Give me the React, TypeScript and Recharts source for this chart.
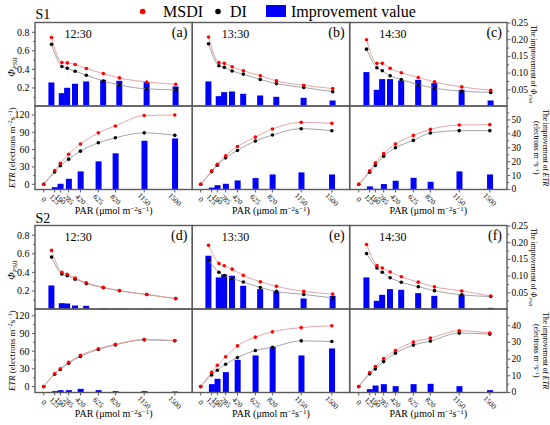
import React from 'react';
import { ComposedChart, Line, Bar, XAxis, YAxis } from 'recharts';

// ---------- data ----------
const PAR = [0, 125, 190, 285, 420, 625, 820, 1150, 1500];

// S1 12:30 (a)
const phiMsdiA = [0.743, 0.475, 0.47, 0.453, 0.41, 0.355, 0.308, 0.264, 0.24];
const phiDiA = [0.67, 0.431, 0.413, 0.38, 0.337, 0.275, 0.231, 0.19, 0.18];
const phiImpA = [0.072, 0.04, 0.056, 0.068, 0.075, 0.08, 0.077, 0.073, 0.06];
const etrMsdiA = [0, 24, 36.5, 52, 69.6, 89, 101, 119, 120];
const etrDiA = [0, 21.4, 32, 43.5, 57.4, 71.8, 80.5, 89, 84.7];
const etrImpA = [0, 1.7, 4.1, 7.7, 13, 20.2, 26, 35, 36.7];

// S1 13:30 (b)
const phiMsdiB = [0.749, 0.473, 0.465, 0.429, 0.385, 0.331, 0.276, 0.229, 0.193];
const phiDiB = [0.676, 0.44, 0.422, 0.382, 0.349, 0.291, 0.247, 0.204, 0.16];
const phiImpB = [0.075, 0.031, 0.043, 0.045, 0.038, 0.033, 0.029, 0.026, 0.018];
const etrMsdiB = [0, 23.2, 34.8, 49.3, 65.5, 81.7, 95.6, 107.2, 105.5];
const etrDiB = [0, 22, 33, 45.8, 58.6, 74.8, 85.2, 96.2, 92.7];
const etrImpB = [0, 1.4, 3.1, 4.1, 6.5, 8.2, 10.8, 12.3, 10.8];

// S1 14:30 (c)
const phiMsdiC = [0.72, 0.465, 0.465, 0.411, 0.364, 0.313, 0.265, 0.211, 0.175];
const phiDiC = [0.618, 0.418, 0.385, 0.331, 0.291, 0.235, 0.198, 0.165, 0.152];
const phiImpC = [0.103, 0.05, 0.082, 0.082, 0.078, 0.08, 0.07, 0.05, 0.018];
const etrMsdiC = [0, 23.2, 37, 53.3, 69.6, 84.6, 95, 102.6, 103.2];
const etrDiC = [0, 20.9, 32.5, 48.7, 63.2, 76, 88.7, 92.8, 92.8];
const etrImpC = [0, 2.2, 0.5, 3.9, 6.3, 8.4, 5.5, 13, 10.8];

// S2 12:30 (d)
const phiMsdiD = [0.637, 0.4, 0.38, 0.339, 0.289, 0.239, 0.204, 0.162, 0.118];
const phiDiD = [0.565, 0.382, 0.363, 0.327, 0.279, 0.235, 0.202, 0.161, 0.117];
const phiImpD = [0.072, 0.019, 0.018, 0.012, 0.011, 0.004, 0.002, 0.001, 0.001];
const etrMsdiD = [0, 21.8, 30.3, 41, 53.2, 64.2, 71.5, 80, 78.1];
const etrDiD = [0, 21, 28.9, 39.6, 51, 62.8, 70.7, 79.2, 77.5];
const etrImpD = [0, 0.8, 1.4, 1.4, 2.2, 1.4, 0.8, 0.8, 0.6];

// S2 13:30 (e)
const phiMsdiE = [0.692, 0.497, 0.471, 0.435, 0.368, 0.298, 0.25, 0.195, 0.166];
const phiDiE = [0.531, 0.401, 0.366, 0.334, 0.297, 0.237, 0.195, 0.162, 0.125];
const phiImpE = [0.161, 0.096, 0.105, 0.101, 0.071, 0.061, 0.055, 0.033, 0.041];
const etrMsdiE = [0, 24.3, 36.2, 50.4, 69, 83.8, 92.8, 100, 103];
const etrDiE = [0, 19.8, 27.7, 37.9, 49.2, 61.1, 66.8, 77.5, 76.4];
const etrImpE = [0, 5, 8.2, 12.2, 19.6, 22.2, 27.2, 22.2, 26.4];

// S2 14:30 (f)
const phiMsdiF = [0.7, 0.475, 0.447, 0.404, 0.353, 0.295, 0.244, 0.2, 0.145];
const phiDiF = [0.604, 0.447, 0.402, 0.343, 0.294, 0.246, 0.203, 0.158, 0.14];
const phiImpF = [0.096, 0.026, 0.044, 0.061, 0.059, 0.049, 0.041, 0.045, 0.005];
const etrMsdiF = [0, 23.8, 34, 47.5, 61.1, 75.4, 82.2, 94.6, 90.7];
const etrDiF = [0, 21.6, 30, 42.4, 56.7, 70.3, 77.1, 90.7, 89];
const etrImpF = [0, 2, 4.2, 5, 3.8, 5, 5.2, 3.8, 1.4];

// tick values
const PHI_L_MAJ = [0.2, 0.4, 0.6, 0.8];
const PHI_L_ALL = [0.1, 0.2, 0.3, 0.4, 0.5, 0.6, 0.7, 0.8];
const PHI_R_MAJ = [0.05, 0.1, 0.15, 0.2, 0.25];
const PHI_R_ALL = [0.025, 0.05, 0.075, 0.1, 0.125, 0.15, 0.175, 0.2, 0.225, 0.25];
const ETR_L_MAJ = [0, 30, 60, 90, 120];
const ETR_L_ALL = [0, 15, 30, 45, 60, 75, 90, 105, 120];
const ETR_R1_MAJ = [0, 10, 20, 30, 40, 50];
const ETR_R1_ALL = [0, 5, 10, 15, 20, 25, 30, 35, 40, 45, 50, 55];
const ETR_R2_MAJ = [0, 10, 20, 30, 40];
const ETR_R2_ALL = [0, 5, 10, 15, 20, 25, 30, 35, 40, 45];

const TIMES = ['12:30', '13:30', '14:30'];
const TAGS = [['(a)', '(b)', '(c)'], ['(d)', '(e)', '(f)']];
const SERIES_NAMES = ['MSDI', 'DI', 'Improvement value'];

// ---------- layout / style ----------
const FONT = '"Liberation Serif", "Times New Roman", serif';
const COLX = [35, 192.3, 349.7];
const PW = 157.3;
const PH = 83.5;
const ROWS = [
  { top: 22.5, bot: 106 },
  { top: 225.5, bot: 309 },
];
const L = 40;
const R = 40;
const T = 8;
const XB = 30;
const AXIS = '#5a5a5a';
const MSDI_LINE = '#e39a9a';
const DI_LINE = '#9a9a9a';
const BLUE = '#0000ff';

const ETR_L_DOM = [
  [-9, 135.5],
  [-10, 131.5],
];
const ETR_R_DOM = [
  [0, 60],
  [0, 50],
];

const isMajor = (majors: number[], v: number) => majors.some((m) => Math.abs(m - v) < 1e-9);

const leftTick = (majors: number[], fmt: (v: number) => string) => (p: any) => {
  const y = p.y;
  const v = p.payload.value;
  const maj = isMajor(majors, v);
  const len = maj ? 3 : 1.8;
  return (
    <g>
      <line x1={L - len} x2={L} y1={y} y2={y} stroke={AXIS} strokeWidth={1} />
      {maj && (
        <text x={L - len - 2.5} y={y} textAnchor="end" dominantBaseline="central" fontSize={10} fontFamily={FONT} fill="#000">
          {fmt(v)}
        </text>
      )}
    </g>
  );
};

const rightTick = (majors: number[], fmt: (v: number) => string) => (p: any) => {
  const y = p.y;
  const v = p.payload.value;
  const maj = isMajor(majors, v);
  const len = maj ? 3 : 1.8;
  const ax = L + PW;
  return (
    <g>
      <line x1={ax} x2={ax + len} y1={y} y2={y} stroke={AXIS} strokeWidth={1} />
      {maj && (
        <text x={ax + len + 1.2} y={y} textAnchor="start" dominantBaseline="central" fontSize={9.5} fontFamily={FONT} fill="#000">
          {fmt(v)}
        </text>
      )}
    </g>
  );
};

const xTick = (p: any) => {
  const x = p.x;
  const axisY = T + PH;
  const cy = axisY + 10;
  return (
    <g>
      <line x1={x} x2={x} y1={axisY} y2={axisY + 3} stroke={AXIS} strokeWidth={1} />
      <text
        x={x}
        y={cy}
        transform={`rotate(45 ${x} ${cy})`}
        textAnchor="middle"
        dominantBaseline="central"
        fontSize={7.5}
        fontFamily={FONT}
        fill="#000"
      >
        {String(p.payload.value)}
      </text>
    </g>
  );
};

const BarShape = (p: any) => {
  if (!p.height || p.height <= 0) return null;
  const cx = p.x + p.width / 2;
  return <rect x={cx - 3} y={p.y} width={6} height={p.height} fill={BLUE} />;
};

const build = (m: number[], d: number[], imp: number[]) =>
  PAR.map((p, i) => ({ par: p, m: m[i], d: d[i], imp: imp[i] }));

function PhiChart({ col, row, m, d, imp }: { col: number; row: number; m: number[]; d: number[]; imp: number[] }) {
  const data = build(m, d, imp);
  return (
    <div style={{ position: 'absolute', left: COLX[col] - L, top: ROWS[row].top - T }}>
      <ComposedChart width={L + PW + R} height={T + PH + T} data={data} margin={{ top: T, right: 0, bottom: T, left: 0 }}>
        <XAxis dataKey="par" type="number" domain={[-200, 1700]} hide allowDataOverflow />
        <YAxis
          yAxisId="l"
          domain={[0, 0.9]}
          ticks={PHI_L_ALL}
          interval={0}
          width={L}
          axisLine={false}
          tickLine={false}
          allowDataOverflow
          tick={col === 0 ? leftTick(PHI_L_MAJ, (v) => v.toFixed(1)) : false}
        />
        <YAxis
          yAxisId="r"
          orientation="right"
          domain={[0, 0.25]}
          ticks={PHI_R_ALL}
          interval={0}
          width={R}
          axisLine={false}
          tickLine={false}
          allowDataOverflow
          tick={col === 2 ? rightTick(PHI_R_MAJ, (v) => v.toFixed(2)) : false}
        />
        <Line yAxisId="l" dataKey="d" type="monotone" stroke={DI_LINE} strokeWidth={0.9} dot={{ r: 1.8, fill: '#000', stroke: 'none' }} isAnimationActive={false} />
        <Line yAxisId="l" dataKey="m" type="monotone" stroke={MSDI_LINE} strokeWidth={0.9} dot={{ r: 1.8, fill: '#ff0000', stroke: 'none' }} isAnimationActive={false} />
        <Bar yAxisId="r" dataKey="imp" shape={BarShape} isAnimationActive={false} />
      </ComposedChart>
    </div>
  );
}

function EtrChart({ col, row, m, d, imp }: { col: number; row: number; m: number[]; d: number[]; imp: number[] }) {
  const data = build(m, d, imp);
  const rMaj = row === 0 ? ETR_R1_MAJ : ETR_R2_MAJ;
  const rAll = row === 0 ? ETR_R1_ALL : ETR_R2_ALL;
  return (
    <div style={{ position: 'absolute', left: COLX[col] - L, top: ROWS[row].bot - T }}>
      <ComposedChart width={L + PW + R} height={T + PH + XB} data={data} margin={{ top: T, right: 0, bottom: 0, left: 0 }}>
        <XAxis
          dataKey="par"
          type="number"
          domain={[-100, 1700]}
          ticks={PAR}
          interval={0}
          height={XB}
          axisLine={false}
          tickLine={false}
          allowDataOverflow
          tick={xTick}
        />
        <YAxis
          yAxisId="l"
          domain={ETR_L_DOM[row]}
          ticks={ETR_L_ALL}
          interval={0}
          width={L}
          axisLine={false}
          tickLine={false}
          allowDataOverflow
          tick={col === 0 ? leftTick(ETR_L_MAJ, (v) => String(v)) : false}
        />
        <YAxis
          yAxisId="r"
          orientation="right"
          domain={ETR_R_DOM[row]}
          ticks={rAll}
          interval={0}
          width={R}
          axisLine={false}
          tickLine={false}
          allowDataOverflow
          tick={col === 2 ? rightTick(rMaj, (v) => String(v)) : false}
        />
        <Line yAxisId="l" dataKey="d" type="monotone" stroke={DI_LINE} strokeWidth={0.9} dot={{ r: 1.8, fill: '#000', stroke: 'none' }} isAnimationActive={false} />
        <Line yAxisId="l" dataKey="m" type="monotone" stroke={MSDI_LINE} strokeWidth={0.9} dot={{ r: 1.8, fill: '#ff0000', stroke: 'none' }} isAnimationActive={false} />
        <Bar yAxisId="r" dataKey="imp" shape={BarShape} isAnimationActive={false} />
      </ComposedChart>
    </div>
  );
}

const PANELS = [
  { col: 0, row: 0, phi: [phiMsdiA, phiDiA, phiImpA], etr: [etrMsdiA, etrDiA, etrImpA] },
  { col: 1, row: 0, phi: [phiMsdiB, phiDiB, phiImpB], etr: [etrMsdiB, etrDiB, etrImpB] },
  { col: 2, row: 0, phi: [phiMsdiC, phiDiC, phiImpC], etr: [etrMsdiC, etrDiC, etrImpC] },
  { col: 0, row: 1, phi: [phiMsdiD, phiDiD, phiImpD], etr: [etrMsdiD, etrDiD, etrImpD] },
  { col: 1, row: 1, phi: [phiMsdiE, phiDiE, phiImpE], etr: [etrMsdiE, etrDiE, etrImpE] },
  { col: 2, row: 1, phi: [phiMsdiF, phiDiF, phiImpF], etr: [etrMsdiF, etrDiF, etrImpF] },
];

function PhiTitle({ x, y, rot }: { x: number; y: number; rot: number }) {
  return (
    <text transform={`translate(${x} ${y}) rotate(${rot})`} textAnchor="middle" fontFamily={FONT} fontSize={10} fill="#000">
      <tspan fontStyle="italic">Φ</tspan>
      <tspan fontStyle="italic" fontSize={6.5} dy={2}>PSII</tspan>
    </text>
  );
}

function Overlay() {
  const frames: React.ReactNode[] = [];
  ROWS.forEach((r, ri) =>
    COLX.forEach((cx, ci) => {
      frames.push(<rect key={`ft${ri}${ci}`} x={cx} y={r.top} width={PW} height={PH} fill="none" stroke={AXIS} strokeWidth={1.4} />);
      frames.push(<rect key={`fb${ri}${ci}`} x={cx} y={r.bot} width={PW} height={PH} fill="none" stroke={AXIS} strokeWidth={1.4} />);
    })
  );
  const rightX = COLX[2] + PW;
  return (
    <svg width={550} height={425} style={{ position: 'absolute', left: 0, top: 0, pointerEvents: 'none' }} fontFamily={FONT}>
      {frames}
      {/* legend */}
      <circle cx={142.7} cy={11.5} r={2.8} fill="#ff0000" />
      <text x={163} y={16.8} fontSize={16} fill="#000">{SERIES_NAMES[0]}</text>
      <circle cx={218} cy={11.5} r={2.8} fill="#000" />
      <text x={230} y={16.8} fontSize={16} fill="#000">{SERIES_NAMES[1]}</text>
      <rect x={266} y={5} width={20} height={12} fill={BLUE} />
      <text x={291} y={16.8} fontSize={16} fill="#000">{SERIES_NAMES[2]}</text>
      {/* row labels */}
      <text x={35.5} y={19} fontSize={14} fill="#000">S1</text>
      <text x={35.5} y={222.5} fontSize={14} fill="#000">S2</text>
      {ROWS.map((r, ri) =>
        COLX.map((cx, ci) => (
          <g key={`lab${ri}${ci}`}>
            <text x={cx + 29.5} y={r.top + 15.5} fontSize={12} fill="#000">{TIMES[ci]}</text>
            <text x={cx + PW - 5} y={r.top + 14.5} fontSize={14} textAnchor="end" fill="#000">{TAGS[ri][ci]}</text>
            <text x={cx + PW / 2} y={r.bot + PH + 24.5} fontSize={10} textAnchor="middle" fill="#000">
              PAR (μmol m<tspan fontSize={7} dy={-3.5}>−2</tspan>
              <tspan dy={3.5}>s</tspan>
              <tspan fontSize={7} dy={-3.5}>−1</tspan>
              <tspan dy={3.5}>)</tspan>
            </text>
          </g>
        ))
      )}
      {ROWS.map((r, ri) => (
        <g key={`ttl${ri}`}>
          <PhiTitle x={15} y={r.top + PH / 2 + 3} rot={-90} />
          <text transform={`translate(14.5 ${r.bot + PH / 2}) rotate(-90)`} textAnchor="middle" fontSize={8.8} fill="#000">
            <tspan fontStyle="italic">ETR</tspan> (electrons m<tspan fontSize={6} dy={-3}>−2</tspan>
            <tspan dy={3}>s</tspan>
            <tspan fontSize={6} dy={-3}>−1</tspan>
            <tspan dy={3}>)</tspan>
          </text>
          <text transform={`translate(${rightX + 23.5} ${r.top + PH / 2}) rotate(90)`} textAnchor="middle" fontSize={7.5} fill="#000">
            The improvement of <tspan fontStyle="italic">Φ</tspan>
            <tspan fontStyle="italic" fontSize={5} dy={1.5}>PSII</tspan>
          </text>
          <text transform={`translate(${rightX + 35.5} ${r.bot + PH / 2}) rotate(90)`} textAnchor="middle" fontSize={7.5} fill="#000">
            The improvement of <tspan fontStyle="italic">ETR</tspan>
          </text>
          <text transform={`translate(${rightX + 26.5} ${r.bot + PH / 2}) rotate(90)`} textAnchor="middle" fontSize={7.5} fill="#000">
            (electrons m<tspan fontSize={5} dy={-2.5}>−2</tspan>
            <tspan dy={2.5}>s</tspan>
            <tspan fontSize={5} dy={-2.5}>−1</tspan>
            <tspan dy={2.5}>)</tspan>
          </text>
        </g>
      ))}
    </svg>
  );
}

export default function App() {
  return (
    <div style={{ position: 'absolute', left: 0, top: 0, width: 550, height: 425, background: '#fff', fontFamily: FONT, overflow: 'hidden' }}>
      {PANELS.map((p) => (
        <React.Fragment key={`${p.col}-${p.row}`}>
          <PhiChart col={p.col} row={p.row} m={p.phi[0]} d={p.phi[1]} imp={p.phi[2]} />
          <EtrChart col={p.col} row={p.row} m={p.etr[0]} d={p.etr[1]} imp={p.etr[2]} />
        </React.Fragment>
      ))}
      <Overlay />
    </div>
  );
}
